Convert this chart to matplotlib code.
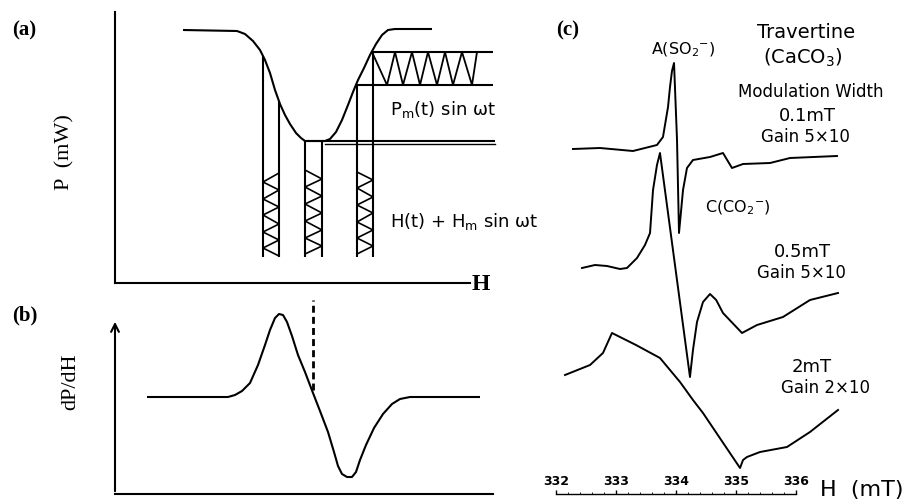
import numpy as np
import matplotlib
matplotlib.use("Agg")
import matplotlib.pyplot as plt

W, H = 904, 504

# ---------------- data: panel (a) absorption curve (arb. units) ----------------
a_H = [68, 122, 130, 138, 145, 150, 155, 160, 165, 170, 175, 181, 186, 190,
       210, 215, 221, 227, 233, 238, 243, 249, 255, 261, 267, 273, 280, 317]
a_P = [253, 252, 249, 242, 233, 223, 210, 193, 179, 168, 159, 150, 145, 142,
       142, 144, 151, 163, 178, 191, 203, 215, 228, 239, 248, 253, 254, 254]

# modulation output levels and oscillation vertices
out_hi, out_lo = 231, 198
osc_H = [257, 272, 280, 288, 297, 305, 313, 322, 330, 338, 347, 357, 362]
osc_P = [231, 198, 231, 198, 231, 198, 231, 198, 231, 198, 231, 198, 231]
base_level = 142

# field modulation columns: (left H, right H, top of left, top of right)
cols = [(148, 164, 227, 182), (190, 207, 142, 142), (242, 258, 198, 231)]
col_bottom = 26
zig_left = [110, 101, 93, 84, 76, 68, 59, 51, 43, 35, 27]
zig_mid = [113, 104, 96, 87, 79, 70, 62, 53, 45, 37, 29]
zig_right = [111, 103, 95, 86, 78, 70, 61, 53, 45, 37, 29]
zig_start = ["R", "L", "L"]

# ---------------- data: panel (b) derivative curve ----------------
b_H = [32, 113, 120, 127, 135, 143, 150, 155, 160, 164, 168, 172, 177, 183, 190, 198,
       205, 213, 219, 223, 227, 232, 237, 241, 245, 251, 259, 268, 277, 285, 295, 365]
b_D = [97, 97, 99, 103, 111, 129, 149, 164, 176, 180, 179, 172, 158, 139, 122, 101,
       83, 62, 42, 28, 20, 17, 17, 22, 34, 49, 66, 80, 90, 95, 97, 97]
b_center = 198

# ---------------- data: panel (c) ESR spectra ----------------
s1_H = [332.283, 332.733, 333.283, 333.683, 333.783, 333.867, 333.90, 333.933, 333.967, 334.017, 334.05, 334.117, 334.183, 334.283, 334.567, 334.783, 334.933, 335.117, 335.567, 335.9, 336.683]
s1_I = [0, 1, -2, 4, 12, 42, 62, 78, 86, 9, -84, -41, -19, -11, -8, -4, -19, -15, -14, -9, -7]
s2_H = [332.433, 332.65, 332.85, 333.067, 333.183, 333.35, 333.483, 333.567, 333.617, 333.683, 333.733, 334.233, 334.283, 334.35, 334.45, 334.567, 334.67, 334.783, 335.1, 335.35, 335.783, 336.233, 336.7]
s2_I = [0, 3, 2, -1, 0, 10, 23, 35, 78, 103, 115, -109, -82, -54, -34, -26, -32, -45, -65, -57, -49, -32, -25]
s3_H = [332.15, 332.567, 332.783, 332.933, 333.333, 333.733, 334.067, 334.283, 334.45, 335.067, 335.117, 335.183, 335.4, 335.85, 336.233, 336.7]
s3_I = [0, 10, 22, 42, 30, 17, -7, -25, -38, -93, -85, -82, -77, -72, -57, -35]
offsets = [355, 236, 129]
scale_ticks = [332, 333, 334, 335, 336]

LW = 1.5
fig = plt.figure(figsize=(W / 100, H / 100), dpi=100)
fig.patch.set_facecolor("white")


def add_ax(x0, y0, x1, y1):
    return fig.add_axes([x0 / W, 1 - y1 / H, (x1 - x0) / W, (y1 - y0) / H])


def ftext(x, y, s, **kw):
    fig.text(x / W, 1 - y / H, s, **kw)


serif = "Liberation Serif"
sans = "DejaVu Sans"

# ---------------- panel (a) ----------------
ax_a = add_ax(115, 12, 495, 283)
ax_a.set_xlim(0, 380)
ax_a.set_ylim(0, 271)
ax_a.set_xticks([]); ax_a.set_yticks([])
ax_a.patch.set_alpha(0)
for s in ["top", "right"]:
    ax_a.spines[s].set_visible(False)
ax_a.spines["left"].set_linewidth(LW)
ax_a.spines["bottom"].set_linewidth(LW)
ax_a.spines["bottom"].set_bounds(0, 355)
kw = dict(color="black", lw=LW, clip_on=False, solid_capstyle="butt", solid_joinstyle="round")
ax_a.plot(a_H, a_P, **kw)
ax_a.plot([190, 380], [base_level, base_level], **kw)
ax_a.plot([210, 380], [base_level - 2.5, base_level - 2.5], color="black", lw=1.0, clip_on=False)
ax_a.plot([257, 378], [out_hi, out_hi], **kw)
ax_a.plot([242, 378], [out_lo, out_lo], **kw)
ax_a.plot(osc_H, osc_P, color="black", lw=1.3, clip_on=False, solid_joinstyle="round")
for (xl, xr, tl, tr), zz, st in zip(cols, [zig_left, zig_mid, zig_right], zig_start):
    ax_a.plot([xl, xl], [tl, col_bottom], **kw)
    ax_a.plot([xr, xr], [tr, col_bottom], **kw)
    first = xr if st == "R" else xl
    second = xl if st == "R" else xr
    xs = [first if i % 2 == 0 else second for i in range(len(zz))]
    ax_a.plot(xs, zz, color="black", lw=1.2, clip_on=False)

ftext(12, 30, "(a)", fontsize=15, fontweight="bold", family=serif, va="center")
ftext(65, 152, "P  (mW)", fontsize=16, family=serif, rotation=90, va="center", ha="center")
ftext(472, 284, "H", fontsize=17, fontweight="bold", family=serif, va="center")
ftext(390, 110, r"P$_{\mathregular{m}}$(t) sin ωt", fontsize=13, family=sans, va="center")
ftext(390, 222, r"H(t) + H$_{\mathregular{m}}$ sin ωt", fontsize=13, family=sans, va="center")

# ---------------- panel (b) ----------------
ax_b = add_ax(115, 300, 495, 494)
ax_b.set_xlim(0, 380)
ax_b.set_ylim(0, 194)
ax_b.set_xticks([]); ax_b.set_yticks([])
ax_b.patch.set_alpha(0)
for s in ["top", "right", "left"]:
    ax_b.spines[s].set_visible(False)
ax_b.spines["bottom"].set_linewidth(LW)
ax_b.spines["bottom"].set_bounds(0, 378)
ax_b.annotate("", xy=(0, 175), xytext=(0, 0),
              arrowprops=dict(arrowstyle="->", lw=LW, color="black", mutation_scale=14),
              annotation_clip=False)
ax_b.plot(b_H, b_D, **kw)
ax_b.plot([b_center, b_center], [104, 194], color="black", lw=2.0, ls=(0, (2.5, 1.5)), clip_on=False)

ftext(12, 315, "(b)", fontsize=15, fontweight="bold", family=serif, va="center")
ftext(71, 382, "dP/dH", fontsize=16, family=serif, rotation=90, va="center", ha="center")

# ---------------- panel (c) ----------------
ax_c = add_ax(540, 0, 904, 504)
ax_c.set_xlim(332 + (540 - 556) / 60, 332 + (904 - 556) / 60)
ax_c.set_ylim(0, 504)
ax_c.axis("off")
for hh, ii, off in zip([s1_H, s2_H, s3_H], [s1_I, s2_I, s3_I], offsets):
    ax_c.plot(hh, np.array(ii) + off, color="black", lw=1.4, solid_joinstyle="round")

ax_s = add_ax(556, 494, 796, 496)
ax_s.set_xlim(332, 336)
ax_s.set_yticks([])
ax_s.patch.set_alpha(0)
for s in ["bottom", "left", "right"]:
    ax_s.spines[s].set_visible(False)
ax_s.spines["top"].set_linewidth(1.0)
ax_s.xaxis.set_ticks_position("top")
ax_s.set_xticks(scale_ticks)
ax_s.set_xticklabels([str(t) for t in scale_ticks])
ax_s.tick_params(axis="x", direction="out", length=3, width=1, pad=1, labelsize=9)
ax_s.set_xticks(np.arange(332, 336.01, 0.2), minor=True)
ax_s.tick_params(axis="x", which="minor", direction="out", length=1.5, width=0.6)
for lab in ax_s.get_xticklabels():
    lab.set_fontweight("bold")

ftext(556, 30, "(c)", fontsize=15, fontweight="bold", family=serif, va="center")
ftext(806, 32, "Travertine", fontsize=14, family=sans, ha="center", va="center")
ftext(803, 58, r"(CaCO$_{\mathregular{3}}$)", fontsize=14, family=sans, ha="center", va="center")
ftext(683, 50, r"A(SO$_{\mathregular{2}}$$^{\mathregular{-}}$)", fontsize=11.5, family=sans, ha="center", va="center")
ftext(811, 92, "Modulation Width", fontsize=12, family=sans, ha="center", va="center")
ftext(807, 116, "0.1mT", fontsize=13, family=sans, ha="center", va="center")
ftext(805, 137, "Gain 5×10", fontsize=12, family=sans, ha="center", va="center")
ftext(738, 208, r"C(CO$_{\mathregular{2}}$$^{\mathregular{-}}$)", fontsize=11.5, family=sans, ha="center", va="center")
ftext(802, 252, "0.5mT", fontsize=13, family=sans, ha="center", va="center")
ftext(801, 273, "Gain 5×10", fontsize=12, family=sans, ha="center", va="center")
ftext(812, 367, "2mT", fontsize=13, family=sans, ha="center", va="center")
ftext(826, 388, "Gain 2×10", fontsize=12, family=sans, ha="center", va="center")
ftext(820, 490, "H  (mT)", fontsize=16, family=sans, va="center")

fig.savefig("out.png", dpi=100, facecolor="white")
